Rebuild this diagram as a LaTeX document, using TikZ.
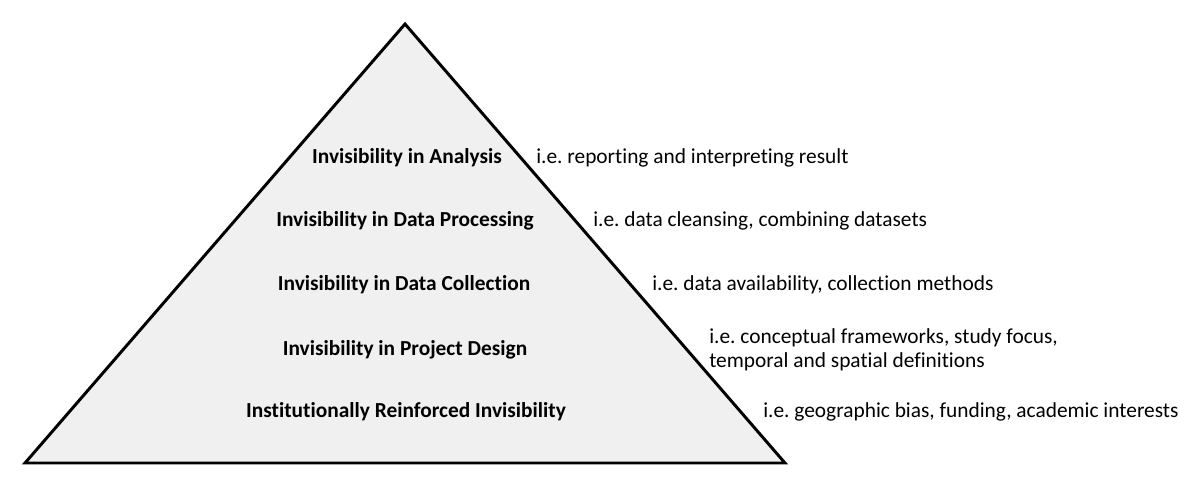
\documentclass[tikz,border=0pt]{standalone}
\usepackage{fontspec}
\setmainfont{Carlito}[Ligatures={NoCommon}]
\usepackage{xcolor}
\definecolor{pyrfill}{RGB}{240,240,240}
\frenchspacing

\begin{document}
\begin{tikzpicture}[x=0.025cm,y=-0.025cm,
  level/.style={font=\fontsize{15.2}{17}\selectfont\bfseries,inner sep=0pt},
  note/.style={font=\fontsize{15.2}{17}\selectfont,anchor=west,inner sep=0pt,align=left}]
\useasboundingbox (0,0) rectangle (1200,488);
\coordinate (apex) at (405,24);
\coordinate (bl) at (25,463);
\coordinate (br) at (785,463);
\filldraw[fill=pyrfill,draw=black,line width=2.1pt,line join=miter] (apex) -- (br) -- (bl) -- cycle;
% levels of the pyramid
\node[level] (analysis) at (407,158) {Invisibility in Analysis};
\node[level] (processing) at (405,221) {Invisibility in Data Processing};
\node[level] (collection) at (404,285) {Invisibility in Data Collection};
\node[level] (design) at (405,350) {Invisibility in Project Design};
\node[level] (institution) at (406,412) {Institutionally Reinforced Invisibility};
% examples on the right
\node[note] (analysisnote) at (536,158) {i.e. reporting and interpreting result};
\node[note] (processingnote) at (593,221) {i.e. data cleansing, combining datasets};
\node[note] (collectionnote) at (652,285) {i.e. data availability, collection methods};
\node[note] (designnote) at (709,350) {i.e. conceptual frameworks, study focus,\\temporal and spatial definitions};
\node[note] (institutionnote) at (763,412) {i.e. geographic bias, funding, academic interests};
\end{tikzpicture}
\end{document}
